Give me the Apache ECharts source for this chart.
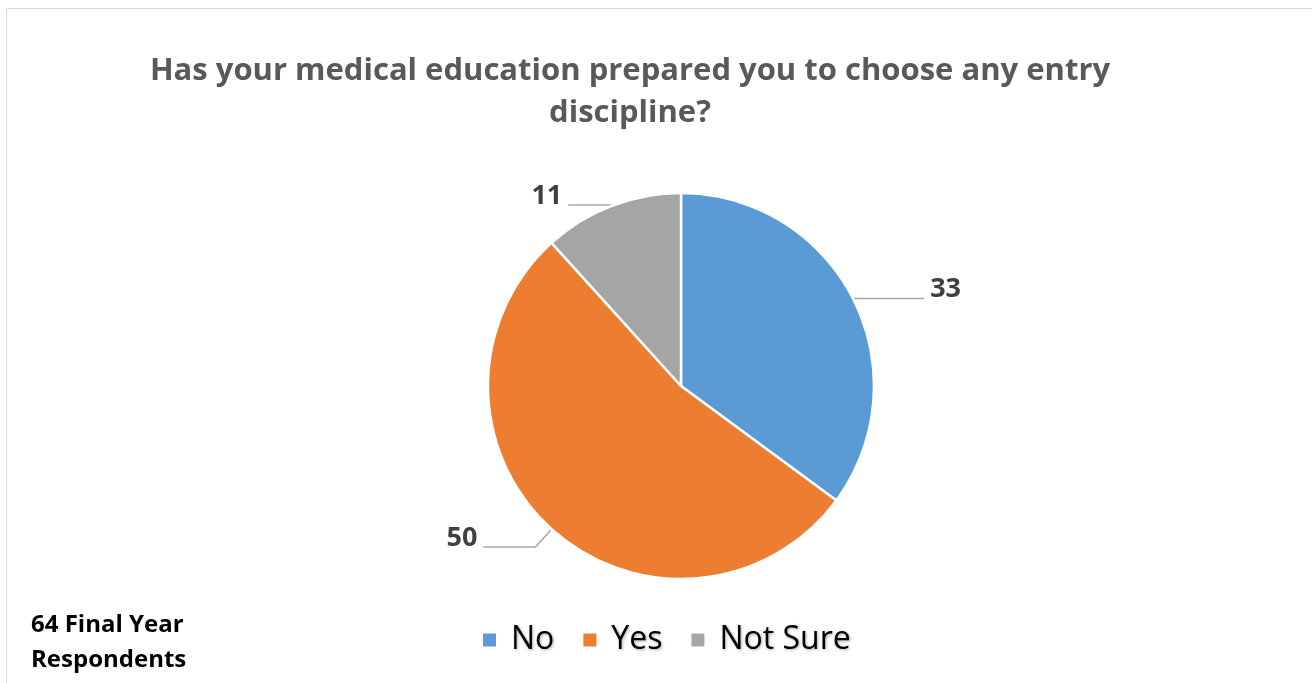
<!DOCTYPE html>
<html>
<head>
<meta charset="utf-8">
<script src="https://cdn.jsdelivr.net/npm/echarts@6/dist/echarts.min.js"></script>
<style>
html,body{margin:0;padding:0;background:#fff;}
#chart{width:1312px;height:683px;}
</style>
</head>
<body>
<div id="chart"></div>
<script>
const categories = ['No', 'Yes', 'Not Sure'];
const values = [33, 50, 11];
const colors = ['#5B9BD5', '#ED7D31', '#A5A5A5'];
const titleText = 'Has your medical education prepared you to choose any entry\ndiscipline?';
const noteText = '64 Final Year\nRespondents';
const lineLengths = [[1, 70], [24, 52], [1, 43]];

const chart = echarts.init(document.getElementById('chart'));
const FONT = 'Open Sans';

const data = categories.map((c, i) => ({
  name: c,
  value: values[i],
  itemStyle: { color: colors[i] },
  labelLine: { length: lineLengths[i][0], length2: lineLengths[i][1] }
}));

chart.setOption({
  backgroundColor: '#fff',
  animation: false,
  title: {
    text: titleText,
    left: 625,
    top: 45,
    textAlign: 'center',
    textStyle: {
      fontFamily: FONT,
      fontWeight: 'bold',
      fontSize: 31,
      lineHeight: 42,
      color: '#595959'
    }
  },
  legend: {
    left: 476,
    top: 619,
    itemWidth: 15,
    itemHeight: 15,
    itemGap: 27,
    icon: 'rect',
    data: categories,
    textStyle: {
      fontFamily: FONT,
      fontSize: 32,
      color: '#000',
      padding: [0, 0, 0, 9],
      textShadowColor: 'rgba(0,0,0,0.35)',
      textShadowBlur: 3,
      textShadowOffsetX: 1,
      textShadowOffsetY: 1
    }
  },
  graphic: [
    {
      type: 'rect',
      silent: true,
      shape: { x: 6.5, y: 8.5, width: 1400, height: 800 },
      style: { fill: 'none', stroke: '#d9d9d9', lineWidth: 1 }
    },
    {
      type: 'text',
      left: 31,
      top: 608,
      style: {
        text: noteText,
        fontFamily: FONT,
        fontWeight: 'bold',
        fontSize: 24,
        lineHeight: 35,
        fill: '#000'
      }
    }
  ],
  series: [{
    type: 'pie',
    center: [681, 386],
    radius: 193,
    startAngle: 90,
    clockwise: true,
    avoidLabelOverlap: false,
    itemStyle: { borderColor: '#fff', borderWidth: 2.5 },
    label: {
      show: true,
      position: 'outside',
      formatter: '{v|{c}}\n{g| }',
      distanceToLabelLine: 6,
      rich: {
        v: {
          fontFamily: FONT,
          fontWeight: 'bold',
          fontSize: 27,
          lineHeight: 30,
          color: '#404040'
        },
        g: { fontSize: 1, lineHeight: 18 }
      }
    },
    labelLine: {
      show: true,
      smooth: false,
      lineStyle: { color: '#a6a6a6', width: 1.5 }
    },
    emphasis: { disabled: true },
    data: data
  }]
});
</script>
</body>
</html>
